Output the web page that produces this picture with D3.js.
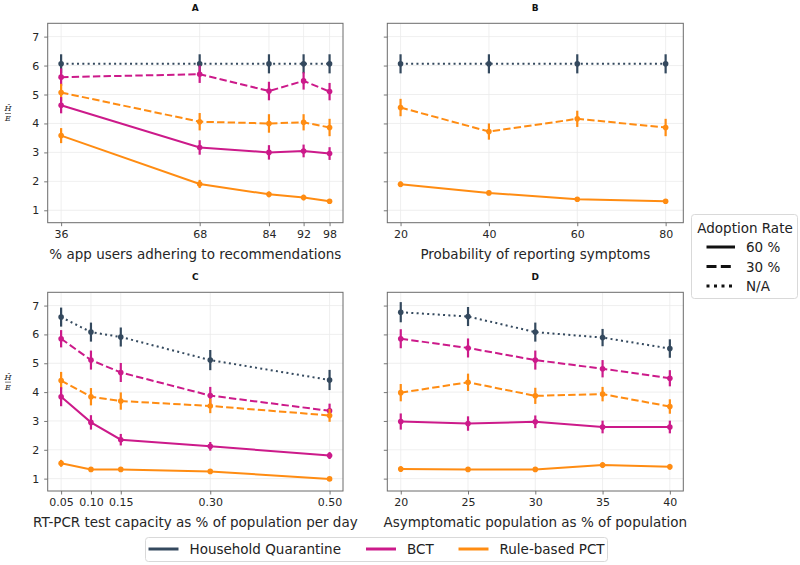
<!DOCTYPE html>
<html><head><meta charset="utf-8">
<script src="https://cdn.jsdelivr.net/npm/d3@7"></script>
<style>body{margin:0;background:#fff}svg{font-family:"DejaVu Sans",sans-serif}</style>
</head><body><svg id="c" width="800" height="565"></svg>
<script>
// ---- data ----
const xA = [36, 68, 84, 92, 98];
const xB = [20, 40, 60, 80];
const xC = [0.05, 0.10, 0.15, 0.30, 0.50];
const xD = [20, 25, 30, 35, 40];

const A_hq      = [6.06, 6.06, 6.06, 6.06, 6.06];
const A_bct30   = [5.60, 5.70, 5.12, 5.47, 5.10];
const A_pct30   = [5.07, 4.06, 4.00, 4.04, 3.86];
const A_bct60   = [4.63, 3.17, 3.00, 3.05, 2.96];
const A_pct60   = [3.58, 1.91, 1.55, 1.44, 1.31];
const A_err     = {hq:[0.33,0.33,0.33,0.33,0.33], bct30:[0.3,0.3,0.32,0.3,0.3], pct30:[0.3,0.3,0.32,0.28,0.3], bct60:[0.28,0.25,0.25,0.22,0.22], pct60:[0.26,0.14,0.1,0.1,0.08]};

const B_hq      = [6.06, 6.06, 6.06, 6.06];
const B_pct30   = [4.55, 3.72, 4.16, 3.86];
const B_pct60   = [1.90, 1.60, 1.38, 1.31];
const B_err     = {hq:[0.33,0.33,0.33,0.33], pct30:[0.3,0.28,0.28,0.3], pct60:[0.1,0.08,0.07,0.08]};

const C_hq      = [6.60, 6.08, 5.91, 5.11, 4.42];
const C_bct30   = [5.85, 5.11, 4.68, 3.88, 3.35];
const C_pct30   = [4.40, 3.84, 3.69, 3.52, 3.19];
const C_bct60   = [3.84, 2.95, 2.35, 2.12, 1.80];
const C_pct60   = [1.53, 1.32, 1.32, 1.25, 0.99];
const C_err     = {hq:[0.33,0.33,0.33,0.35,0.35], bct30:[0.3,0.33,0.33,0.3,0.25], pct30:[0.3,0.3,0.3,0.25,0.22], bct60:[0.33,0.25,0.2,0.15,0.12], pct60:[0.12,0.08,0.07,0.07,0.07]};

const D_hq      = [6.77, 6.62, 6.08, 5.89, 5.51];
const D_bct30   = [5.85, 5.53, 5.11, 4.81, 4.48];
const D_pct30   = [3.98, 4.34, 3.87, 3.93, 3.50];
const D_bct60   = [2.98, 2.91, 2.97, 2.79, 2.79];
const D_pct60   = [1.33, 1.32, 1.32, 1.47, 1.41];
const D_err     = {hq:[0.35,0.33,0.33,0.3,0.32], bct30:[0.33,0.33,0.33,0.3,0.28], pct30:[0.3,0.3,0.28,0.25,0.25], bct60:[0.28,0.25,0.22,0.22,0.22], pct60:[0.1,0.08,0.07,0.1,0.1]};

const yTicks = [1, 2, 3, 4, 5, 6, 7];
const methods = ["Household Quarantine", "BCT", "Rule-based PCT"];
const adoption = ["60 %", "30 %", "N/A"];
const panelTitles = ["A", "B", "C", "D"];
const xLabels = ["% app users adhering to recommendations", "Probability of reporting symptoms",
                 "RT-PCR test capacity as % of population per day", "Asymptomatic population as % of population"];

// ---- style ----
const COL = {hq:"#34495e", bct:"#cc1a8a", pct:"#ff8c12"};
const DASH = {"60":null, "30":"7.4,3.2", "NA":"2,3.3"};

const svg = d3.select("#c");

const panels = [
  {title:"A", xs:xA, xfmt:d=>d, dom:[32.9,101.1], box:[47.7,343,23.3,222.7], ylab:true, xl:xLabels[0],
   series:[{k:"hq",c:COL.hq,d:"NA",v:A_hq},{k:"bct30",c:COL.bct,d:"30",v:A_bct30},{k:"pct30",c:COL.pct,d:"30",v:A_pct30},{k:"bct60",c:COL.bct,d:"60",v:A_bct60},{k:"pct60",c:COL.pct,d:"60",v:A_pct60}], err:A_err},
  {title:"B", xs:xB, xfmt:d=>d, dom:[17.0,84.0], box:[387.3,683.3,23.3,222.7], ylab:false, xl:xLabels[1],
   series:[{k:"hq",c:COL.hq,d:"NA",v:B_hq},{k:"pct30",c:COL.pct,d:"30",v:B_pct30},{k:"pct60",c:COL.pct,d:"60",v:B_pct60}], err:B_err},
  {title:"C", xs:xC, xfmt:d3.format(".2f"), dom:[0.0275,0.5225], box:[47.7,343,292.3,491], ylab:true, xl:xLabels[2],
   series:[{k:"hq",c:COL.hq,d:"NA",v:C_hq},{k:"bct30",c:COL.bct,d:"30",v:C_bct30},{k:"pct30",c:COL.pct,d:"30",v:C_pct30},{k:"bct60",c:COL.bct,d:"60",v:C_bct60},{k:"pct60",c:COL.pct,d:"60",v:C_pct60}], err:C_err},
  {title:"D", xs:xD, xfmt:d=>d, dom:[19.0,41.0], box:[387.3,683.3,292.3,491], ylab:false, xl:xLabels[3],
   series:[{k:"hq",c:COL.hq,d:"NA",v:D_hq},{k:"bct30",c:COL.bct,d:"30",v:D_bct30},{k:"pct30",c:COL.pct,d:"30",v:D_pct30},{k:"bct60",c:COL.bct,d:"60",v:D_bct60},{k:"pct60",c:COL.pct,d:"60",v:D_pct60}], err:D_err}
];

panels.forEach(p => {
  const [x0,x1,y0,y1] = p.box;
  const x = d3.scaleLinear().domain(p.dom).range([x0,x1]);
  const yTop = y0, yBot = y1;
  // 7 at y0+13.4 ; 1 at y1-12.4 roughly
  const y = d3.scaleLinear().domain([0.571, 7.46]).range([yBot, yTop]);
  const g = svg.append("g");
  // grid
  g.append("g").selectAll("line").data(yTicks).join("line")
    .attr("x1",x0).attr("x2",x1).attr("y1",d=>y(d)).attr("y2",d=>y(d))
    .attr("stroke","#ebebeb").attr("stroke-width",0.8);
  g.append("g").selectAll("line").data(p.xs).join("line")
    .attr("x1",d=>x(d)).attr("x2",d=>x(d)).attr("y1",y0).attr("y2",y1)
    .attr("stroke","#ebebeb").attr("stroke-width",0.8);
  // axes
  const ax = g.append("g").attr("transform",`translate(0,${y1})`)
    .call(d3.axisBottom(x).tickValues(p.xs).tickFormat(p.xfmt).tickSize(3.5).tickPadding(4));
  const ay = g.append("g").attr("transform",`translate(${x0},0)`)
    .call(d3.axisLeft(y).tickValues(yTicks).tickSize(3.5).tickPadding(5).tickFormat(p.ylab? d=>d : ""));
  [ax,ay].forEach(a=>{
    a.select(".domain").remove();
    a.selectAll(".tick line").attr("stroke","#555").attr("stroke-width",0.8);
    a.selectAll("text").attr("fill","#262626").attr("font-size",11).attr("font-family","DejaVu Sans");
  });
  // frame
  g.append("rect").attr("x",x0).attr("y",y0).attr("width",x1-x0).attr("height",y1-y0)
    .attr("fill","none").attr("stroke","#6b6b6b").attr("stroke-width",1);
  // title
  g.append("text").attr("x",(x0+x1)/2).attr("y",y0-12).attr("text-anchor","middle")
    .attr("font-size",9).attr("font-weight","bold").attr("fill","#111").text(p.title);
  // x label
  g.append("text").attr("x",(x0+x1)/2).attr("y",y1+36).attr("text-anchor","middle")
    .attr("font-size",13.5).attr("fill","#262626").text(p.xl);
  // y label (fraction)
  if (p.ylab) {
    const cy = (y0+y1)/2 - 11, cx = 8;
    const yl = g.append("g").attr("font-family","DejaVu Serif").attr("font-style","italic").attr("fill","#222");
    yl.append("text").attr("x",cx).attr("y",cy-1).attr("text-anchor","middle").attr("font-size",8).text("H\u0302");
    yl.append("line").attr("x1",cx-3).attr("x2",cx+3).attr("y1",cy+1.5).attr("y2",cy+1.5).attr("stroke","#222").attr("stroke-width",0.6);
    yl.append("text").attr("x",cx).attr("y",cy+9).attr("text-anchor","middle").attr("font-size",8).text("E");
  }
  // series
  const line = d3.line().x(d=>x(d[0])).y(d=>y(d[1]));
  p.series.forEach(s => {
    const pts = p.xs.map((xv,i)=>[xv, s.v[i], p.err[s.k][i]]);
    const sg = g.append("g");
    sg.append("path").attr("d", line(pts)).attr("fill","none").attr("stroke",s.c)
      .attr("stroke-width",2).attr("stroke-dasharray",DASH[s.d]);
    sg.selectAll("line.e").data(pts).join("line").attr("class","e")
      .attr("x1",d=>x(d[0])).attr("x2",d=>x(d[0])).attr("y1",d=>y(d[1]-d[2])).attr("y2",d=>y(d[1]+d[2]))
      .attr("stroke",s.c).attr("stroke-width",2.2);
    sg.selectAll("circle").data(pts).join("circle")
      .attr("cx",d=>x(d[0])).attr("cy",d=>y(d[1])).attr("r",2.8).attr("fill",s.c);
  });
});

// right legend
const rl = svg.append("g");
rl.append("rect").attr("x",691.5).attr("y",214.5).attr("width",106).attr("height",84).attr("rx",3)
  .attr("fill","#fff").attr("stroke","#d9d9d9").attr("stroke-width",1);
rl.append("text").attr("x",745).attr("y",233).attr("text-anchor","middle").attr("font-size",13.5).attr("fill","#222").text("Adoption Rate");
const dashKeys = ["60","30","NA"];
adoption.forEach((a,i)=>{
  const yy = 247 + i*19.5;
  rl.append("line").attr("x1",706.5).attr("x2",735).attr("y1",yy).attr("y2",yy).attr("stroke","#111")
    .attr("stroke-width",3).attr("stroke-dasharray", dashKeys[i]==="30" ? "10,4.3" : dashKeys[i]==="NA" ? "3,4.5" : null);
  rl.append("text").attr("x",746).attr("y",yy+5).attr("font-size",13.5).attr("fill","#222").text(a);
});

// bottom legend
const bl = svg.append("g");
bl.append("rect").attr("x",145.5).attr("y",537.5).attr("width",462).attr("height",24).attr("rx",3)
  .attr("fill","#fff").attr("stroke","#d9d9d9").attr("stroke-width",1);
const bcol = [COL.hq, COL.bct, COL.pct];
const bx = [148.5, 366, 458.5];
methods.forEach((m,i)=>{
  bl.append("line").attr("x1",bx[i]).attr("x2",bx[i]+30).attr("y1",549).attr("y2",549).attr("stroke",bcol[i]).attr("stroke-width",3);
  bl.append("text").attr("x",bx[i]+41).attr("y",554).attr("font-size",13.5).attr("fill","#222").text(m);
});
</script></body></html>
